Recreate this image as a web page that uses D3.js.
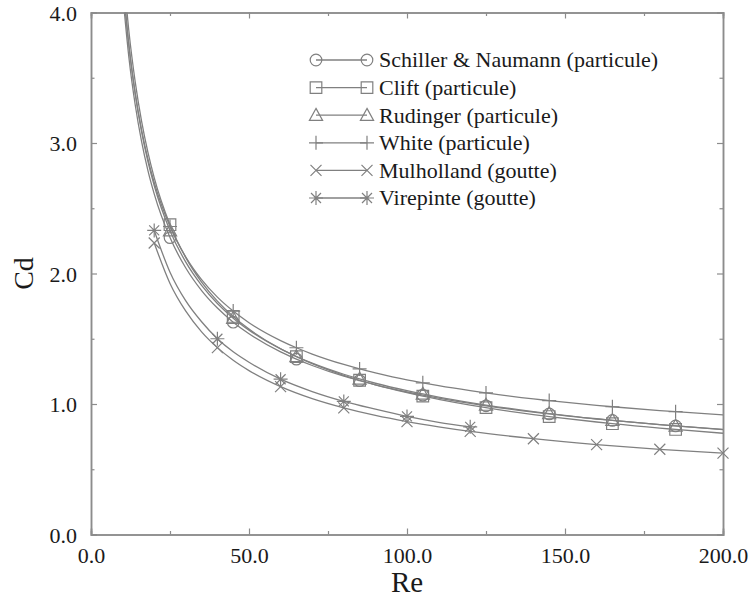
<!DOCTYPE html>
<html>
<head>
<meta charset="utf-8">
<script src="https://cdn.jsdelivr.net/npm/d3@7"></script>
<style>
  body { margin: 0; background: #fff; }
</style>
</head>
<body>
<div id="container"></div>
<script>
/* CONSTANTS AND GLOBALS */
const width = 750,
  height = 601,
  margin = {top: 12.5, bottom: 66.5, left: 91, right: 27};

const lineColor = "#808080";
const axisColor = "#8c8c8c";
const serif = "'Liberation Serif', 'Times New Roman', Times, 'DejaVu Serif', serif";

/* DATA */
// particle correlations (Re, Cd)
const reParticle = [10, 12, 14, 16, 18, 20, 25, 30, 35, 40, 45, 50, 60, 65, 70, 80, 85, 90,
  100, 105, 110, 120, 125, 140, 145, 160, 165, 180, 185, 200];
const cdSchiller = [4.151, 3.654, 3.291, 3.012, 2.790, 2.610, 2.275, 2.042, 1.869, 1.735, 1.627, 1.538,
  1.399, 1.344, 1.295, 1.213, 1.179, 1.147, 1.092, 1.068, 1.045, 1.004, 0.986, 0.938, 0.924, 0.885,
  0.874, 0.842, 0.832, 0.806];
const cdClift = [4.384, 3.854, 3.466, 3.167, 2.930, 2.735, 2.374, 2.122, 1.934, 1.788, 1.671, 1.574,
  1.423, 1.363, 1.309, 1.220, 1.182, 1.147, 1.087, 1.060, 1.036, 0.992, 0.972, 0.919, 0.904, 0.862,
  0.849, 0.815, 0.805, 0.776];
const cdRudinger = [4.257, 3.747, 3.374, 3.087, 2.860, 2.674, 2.328, 2.087, 1.909, 1.770, 1.658, 1.566,
  1.422, 1.364, 1.313, 1.228, 1.192, 1.159, 1.102, 1.077, 1.053, 1.011, 0.992, 0.942, 0.927, 0.887,
  0.875, 0.842, 0.832, 0.804];
const cdWhite = [4.242, 3.744, 3.380, 3.100, 2.878, 2.697, 2.360, 2.126, 1.953, 1.819, 1.712, 1.623,
  1.486, 1.431, 1.383, 1.303, 1.269, 1.239, 1.185, 1.162, 1.140, 1.102, 1.085, 1.039, 1.026, 0.990,
  0.979, 0.950, 0.941, 0.916];
const markParticle = [25, 45, 65, 85, 105, 125, 145, 165, 185];

// drop correlations
const reDrop = [20, 25, 30, 35, 40, 45, 50, 60, 70, 80, 90, 100, 110, 120, 140, 160, 180, 200];
const cdMulholland = [2.234, 1.924, 1.711, 1.553, 1.432, 1.335, 1.256, 1.133, 1.041, 0.970, 0.912,
  0.865, 0.825, 0.790, 0.734, 0.689, 0.653, 0.623];
const cdVirepinte = [2.33, 2.01, 1.79, 1.63, 1.50, 1.40, 1.32, 1.19, 1.095, 1.02, 0.96, 0.905, 0.86, 0.825];
const markDrop = [20, 40, 60, 80, 100, 120, 140, 160, 180, 200];

const seriesNames = ["Schiller & Naumann (particule)", "Clift (particule)", "Rudinger (particule)",
  "White (particule)", "Mulholland (goutte)", "Virepinte (goutte)"];
const seriesSymbols = ["circle", "square", "triangle", "plus", "cross", "star"];

const xTicks = [0, 50, 100, 150, 200];
const xMinor = [25, 75, 125, 175];
const yTicks = [0, 1, 2, 3, 4];
const yMinor = [0.5, 1.5, 2.5, 3.5];

// build series table
const series = [
  {name: seriesNames[0], sym: seriesSymbols[0], re: reParticle, cd: cdSchiller, marks: markParticle},
  {name: seriesNames[1], sym: seriesSymbols[1], re: reParticle, cd: cdClift, marks: markParticle},
  {name: seriesNames[2], sym: seriesSymbols[2], re: reParticle, cd: cdRudinger, marks: markParticle},
  {name: seriesNames[3], sym: seriesSymbols[3], re: reParticle, cd: cdWhite, marks: markParticle},
  {name: seriesNames[4], sym: seriesSymbols[4], re: reDrop, cd: cdMulholland, marks: markDrop},
  {name: seriesNames[5], sym: seriesSymbols[5], re: reDrop.slice(0, cdVirepinte.length), cd: cdVirepinte, marks: markDrop}
].map(s => {
  s.points = s.cd.map((c, i) => ({re: s.re[i], cd: c}));
  return s;
});

/* SCALES */
const xScale = d3.scaleLinear().domain([0, 200]).range([margin.left, width - margin.right]);
const yScale = d3.scaleLinear().domain([0, 4]).range([height - margin.bottom, margin.top]);

// symbol path generator (open markers)
function symbolPath(type) {
  const p = d3.path();
  if (type === "circle") {
    p.arc(0, 0, 5.8, 0, 2 * Math.PI);
  } else if (type === "square") {
    p.rect(-5.8, -5.8, 11.6, 11.6);
  } else if (type === "triangle") {
    p.moveTo(0, -6.8); p.lineTo(6.6, 5.2); p.lineTo(-6.6, 5.2); p.closePath();
  } else if (type === "plus") {
    p.moveTo(-7, 0); p.lineTo(7, 0); p.moveTo(0, -7); p.lineTo(0, 7);
  } else if (type === "cross") {
    p.moveTo(-5.5, -5.5); p.lineTo(5.5, 5.5); p.moveTo(-5.5, 5.5); p.lineTo(5.5, -5.5);
  } else if (type === "star") {
    p.moveTo(-7, 0); p.lineTo(7, 0); p.moveTo(0, -7); p.lineTo(0, 7);
    p.moveTo(-5, -5); p.lineTo(5, 5); p.moveTo(-5, 5); p.lineTo(5, -5);
  }
  return p.toString();
}

/* SVG */
const svg = d3.select("#container")
  .append("svg")
  .attr("width", width)
  .attr("height", height);

svg.append("defs").append("clipPath").attr("id", "plotClip")
  .append("rect")
  .attr("x", margin.left)
  .attr("y", margin.top)
  .attr("width", width - margin.left - margin.right)
  .attr("height", height - margin.top - margin.bottom);

// + AXES (ticks inward, mirrored on all four sides)
const tickFmt = d3.format(".1f");

function styleAxis(g) {
  g.selectAll("path.domain").attr("stroke", axisColor).attr("stroke-width", 1.5);
  g.selectAll(".tick line").attr("stroke", axisColor).attr("stroke-width", 1.2);
  g.selectAll(".tick text")
    .attr("fill", "#1a1a1a")
    .style("font-family", serif)
    .style("font-size", "22px");
}

// bottom
svg.append("g")
  .attr("transform", `translate(0,${yScale(0)})`)
  .call(d3.axisBottom(xScale).tickValues(xTicks).tickSize(-6).tickPadding(0).tickFormat(tickFmt))
  .call(styleAxis)
  .call(g => g.selectAll(".tick text").attr("y", 28).attr("dy", 0));
svg.append("g")
  .attr("transform", `translate(0,${yScale(0)})`)
  .call(d3.axisBottom(xScale).tickValues(xMinor).tickSize(-3.5).tickFormat(""))
  .call(styleAxis);
// top
svg.append("g")
  .attr("transform", `translate(0,${yScale(4)})`)
  .call(d3.axisTop(xScale).tickValues(xTicks).tickSize(-6).tickFormat(""))
  .call(styleAxis);
svg.append("g")
  .attr("transform", `translate(0,${yScale(4)})`)
  .call(d3.axisTop(xScale).tickValues(xMinor).tickSize(-3.5).tickFormat(""))
  .call(styleAxis);
// left
svg.append("g")
  .attr("transform", `translate(${xScale(0)},0)`)
  .call(d3.axisLeft(yScale).tickValues(yTicks).tickSize(-6).tickPadding(14).tickFormat(tickFmt))
  .call(styleAxis)
  .call(g => g.selectAll(".tick text").attr("x", -14).attr("dy", "0.36em"));
svg.append("g")
  .attr("transform", `translate(${xScale(0)},0)`)
  .call(d3.axisLeft(yScale).tickValues(yMinor).tickSize(-3.5).tickFormat(""))
  .call(styleAxis);
// right
svg.append("g")
  .attr("transform", `translate(${xScale(200)},0)`)
  .call(d3.axisRight(yScale).tickValues(yTicks).tickSize(-6).tickFormat(""))
  .call(styleAxis);
svg.append("g")
  .attr("transform", `translate(${xScale(200)},0)`)
  .call(d3.axisRight(yScale).tickValues(yMinor).tickSize(-3.5).tickFormat(""))
  .call(styleAxis);

// axis titles
svg.append("text")
  .attr("x", (xScale(0) + xScale(200)) / 2)
  .attr("y", 592)
  .attr("text-anchor", "middle")
  .attr("fill", "#1a1a1a")
  .style("font-family", serif)
  .style("font-size", "29px")
  .text("Re");

svg.append("text")
  .attr("transform", `translate(33,${(yScale(0) + yScale(4)) / 2}) rotate(-90)`)
  .attr("text-anchor", "middle")
  .attr("fill", "#1a1a1a")
  .style("font-family", serif)
  .style("font-size", "28px")
  .text("Cd");

// + LINES
const line = d3.line()
  .x(d => xScale(d.re))
  .y(d => yScale(d.cd))
  .curve(d3.curveMonotoneX);

const plot = svg.append("g").attr("clip-path", "url(#plotClip)");

plot.selectAll("path.series")
  .data(series)
  .join("path")
  .attr("class", "series")
  .attr("fill", "none")
  .attr("stroke", lineColor)
  .attr("stroke-width", 1.3)
  .attr("d", d => line(d.points));

// + MARKERS
series.forEach(s => {
  const pts = s.points.filter(p => s.marks.includes(p.re));
  svg.append("g")
    .selectAll("path")
    .data(pts)
    .join("path")
    .attr("transform", d => `translate(${xScale(d.re)},${yScale(d.cd)})`)
    .attr("d", symbolPath(s.sym))
    .attr("fill", "none")
    .attr("stroke", lineColor)
    .attr("stroke-width", 1.2);
});

// + LEGEND
const legend = svg.append("g").attr("transform", "translate(316,60)");
const rowH = 27.6;
const rows = legend.selectAll("g")
  .data(series)
  .join("g")
  .attr("transform", (d, i) => `translate(0,${i * rowH})`);

rows.append("line")
  .attr("x1", 0).attr("x2", 51)
  .attr("stroke", lineColor).attr("stroke-width", 1.3);
rows.append("path")
  .attr("d", d => symbolPath(d.sym))
  .attr("fill", "none").attr("stroke", lineColor).attr("stroke-width", 1.2);
rows.append("path")
  .attr("transform", "translate(51,0)")
  .attr("d", d => symbolPath(d.sym))
  .attr("fill", "none").attr("stroke", lineColor).attr("stroke-width", 1.2);
rows.append("text")
  .attr("x", 63)
  .attr("dy", "0.34em")
  .attr("fill", "#1a1a1a")
  .style("font-family", serif)
  .style("font-size", "22px")
  .text(d => d.name);
</script>
</body>
</html>
